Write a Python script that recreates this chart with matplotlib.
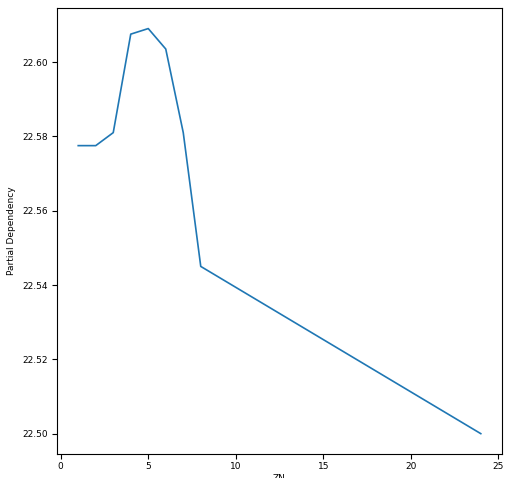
import matplotlib.pyplot as plt

zn = [1, 2, 3, 4, 5, 6, 7, 8, 24]
pd_vals = [22.5775, 22.5775, 22.581, 22.6075, 22.609, 22.6035, 22.581, 22.545, 22.500]

plt.rcParams['font.size'] = 6.5
fig, ax = plt.subplots(figsize=(5.11, 4.78), dpi=100)
ax.plot(zn, pd_vals, color='#1f77b4', linewidth=1.2)
ax.set_xlabel("ZN", labelpad=2)
ax.set_ylabel("Partial Dependency")
ax.tick_params(axis='x', pad=2)
ax.set_xticks([0, 5, 10, 15, 20, 25])
ax.set_yticks([22.50, 22.52, 22.54, 22.56, 22.58, 22.60])
ax.set_yticklabels([f"{v:.2f}" for v in [22.50, 22.52, 22.54, 22.56, 22.58, 22.60]])
ax.set_xlim(-0.2, 25.2)
ax.set_ylim(22.4945, 22.6145)
fig.subplots_adjust(left=0.112, right=0.982, top=0.983, bottom=0.05)
fig.savefig("out.png")
